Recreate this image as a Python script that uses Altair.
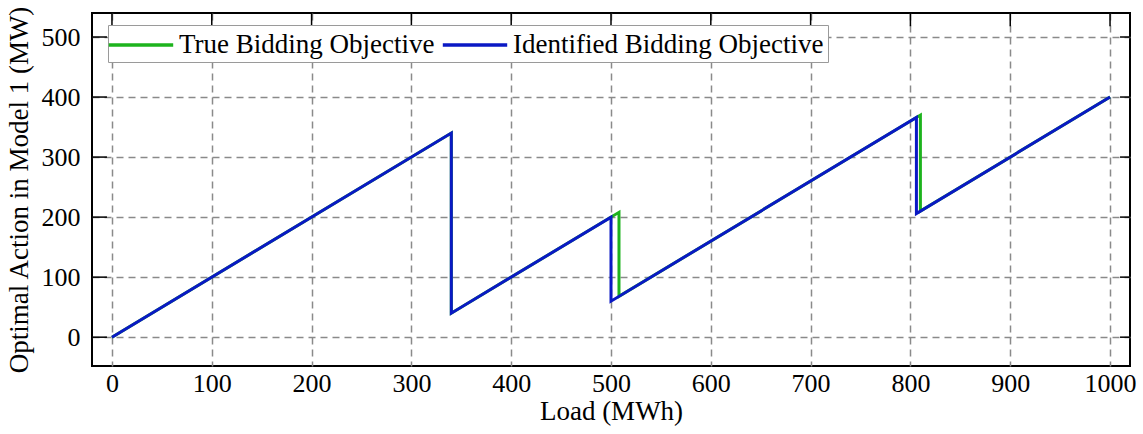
import altair as alt
import pandas as pd

# Piecewise-linear optimal action curves (load in MWh -> action in MW)
true_load = [0, 340, 340, 508, 508, 810, 810, 1000]
true_action = [0, 340, 40, 208, 68, 370, 210, 400]
ident_load = [0, 340, 340, 500, 500, 806, 806, 1000]
ident_action = [0, 340, 40, 200, 60, 366, 206, 400]

series_names = ["True Bidding Objective", "Identified Bidding Objective"]
series_colors = ["#1db31d", "#0a19c4"]

x_ticks = [0, 100, 200, 300, 400, 500, 600, 700, 800, 900, 1000]
y_ticks = [0, 100, 200, 300, 400, 500]
x_dom = [-20, 1020]
y_dom = [-48, 540]

rows = []
for name, xs, ys in [(series_names[0], true_load, true_action),
                     (series_names[1], ident_load, ident_action)]:
    for i, (xv, yv) in enumerate(zip(xs, ys)):
        rows.append({"series": name, "idx": i, "load": xv, "action": yv})
df = pd.DataFrame(rows)

FONT = "Liberation Serif"

xs = alt.Scale(domain=x_dom, nice=False, zero=False)
ys = alt.Scale(domain=y_dom, nice=False, zero=False)

# Long horizontal swatch drawn as a custom path so the legend row stays compact
color = alt.Color(
    "series:N",
    scale=alt.Scale(domain=series_names, range=series_colors),
    legend=alt.Legend(
        title=None, orient="none", legendX=16, legendY=12, direction="horizontal",
        symbolType="M-2.3,0L2.3,0", symbolSize=784, symbolStrokeWidth=3.5,
        symbolOffset=13, labelOffset=22,
        labelFont=FONT, labelFontSize=27, labelColor="black",
        strokeColor="#9a9a9a", padding=4, columnPadding=0,
        labelLimit=500, fillColor="white",
    ),
)

def line(name):
    return alt.Chart(df).transform_filter(alt.datum.series == name).mark_line(
        strokeWidth=3, clip=True
    ).encode(
        x=alt.X("load:Q", scale=xs,
                axis=alt.Axis(values=x_ticks, title="Load (MWh)", format="d")),
        y=alt.Y("action:Q", scale=ys,
                axis=alt.Axis(values=y_ticks, title="Optimal Action in Model 1 (MW)", format="d")),
        color=color,
        order="idx:Q",
    )

# Inward tick marks along the top, left and right frame edges
xt = pd.DataFrame({"v": x_ticks})
yt = pd.DataFrame({"v": y_ticks})
top_ticks = alt.Chart(xt).mark_rule(color="black", strokeWidth=1.5).encode(
    x=alt.X("v:Q", scale=xs), y=alt.datum(y_dom[1], scale=ys), y2=alt.datum(y_dom[1] - 22))
left_ticks = alt.Chart(yt).mark_rule(color="black", strokeWidth=1.5).encode(
    y=alt.Y("v:Q", scale=ys), x=alt.datum(x_dom[0], scale=xs), x2=alt.datum(x_dom[0] + 15))
right_ticks = alt.Chart(yt).mark_rule(color="black", strokeWidth=1.5).encode(
    y=alt.Y("v:Q", scale=ys), x=alt.datum(x_dom[1], scale=xs), x2=alt.datum(x_dom[1] - 10))

chart = alt.layer(
    top_ticks, left_ticks, right_ticks,
    line(series_names[0]), line(series_names[1]),
).properties(
    width=1038, height=353,
    autosize=alt.AutoSizeParams(type="none"),
    padding={"left": 92, "top": 13, "right": 13, "bottom": 68},
).configure_view(
    stroke="black", strokeWidth=2
).configure_axis(
    domain=False, ticks=False,
    grid=True, gridColor="#8a8a8a", gridDash=[7, 5], gridWidth=1.5,
    labelFont=FONT, labelFontSize=26, labelColor="black",
    titleFont=FONT, titleFontSize=27, titleFontWeight="normal", titleColor="black",
).configure_axisX(
    labelPadding=4, titlePadding=2
).configure_axisY(
    labelPadding=12, titlePadding=8
)

chart.save("out.html", embed_options={"renderer": "svg", "actions": False})
